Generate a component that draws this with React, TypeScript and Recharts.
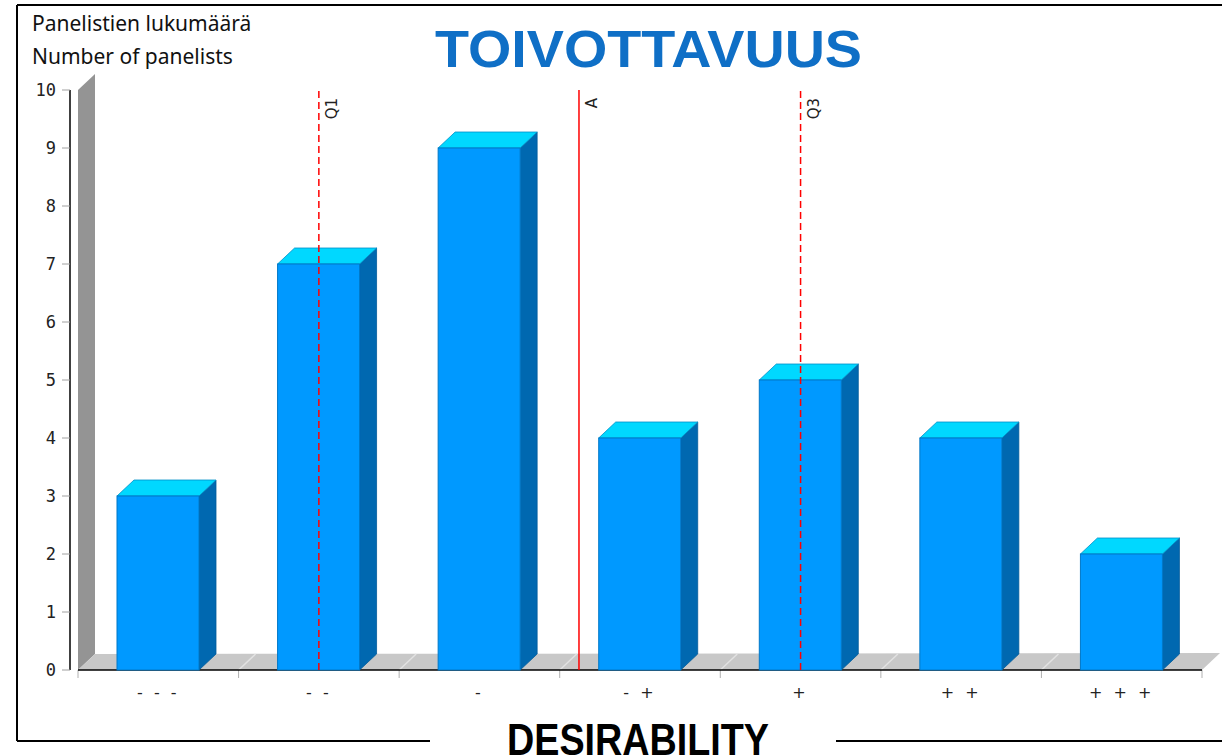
import React from "react";
import * as R from "recharts";
import { BarChart, Bar, XAxis, YAxis, ReferenceLine } from "recharts";

const categories = ["- - -", "- -", "-", "- +", "+", "+ +", "+ + +"];
const panelists = [3, 7, 9, 4, 5, 4, 2];
const yTicks = [0, 1, 2, 3, 4, 5, 6, 7, 8, 9, 10];
// quartiles and mean on a 1..7 scale (category positions)
const markers = [
  { name: "Q1", value: 2, dashed: true },
  { name: "A", value: 3.62, dashed: false },
  { name: "Q3", value: 5, dashed: true },
];

const data = categories.map((c, i) => ({ cat: c, n: panelists[i], pos: i + 1 }));

const DX = 17;
const DY = 16;

const usePlot: () => any = (R as any).usePlotArea || (R as any).useOffset || (() => null);

const Room = () => {
  const area = usePlot();
  if (!area) return null;
  const left = area.x ?? area.left;
  const top = area.y ?? area.top;
  const { width, height } = area;
  const bottom = top + height;
  const right = left + width;
  const band = width / categories.length;
  const bounds = Array.from({ length: categories.length + 1 }, (_, i) => left + i * band);
  return (
    <g>
      <polygon
        points={`${left},${bottom} ${left},${top} ${left + DX},${top - DY} ${left + DX},${bottom - DY}`}
        fill="#949494"
      />
      <polygon
        points={`${left},${bottom} ${right},${bottom} ${right + DX + 1},${bottom - DY - 1} ${left + DX},${bottom - DY}`}
        fill="#c8c8c8"
      />
      {bounds.slice(1, -1).map((bx) => (
        <line key={bx} x1={bx} y1={bottom} x2={bx + DX} y2={bottom - DY} stroke="#e2e2e2" strokeWidth={1.5} />
      ))}
      {bounds.map((bx) => (
        <line key={"t" + bx} x1={bx} y1={bottom} x2={bx} y2={bottom + 8} stroke="#b0b0b0" />
      ))}
      <line x1={left} y1={bottom} x2={right} y2={bottom} stroke="#000" strokeWidth={1.5} />
      <line x1={left - 8} y1={top} x2={left - 8} y2={bottom} stroke="#000" strokeWidth={1.5} />
    </g>
  );
};

const Box3D = (props: any) => {
  const { x, y, width, height } = props;
  if (!height) return null;
  const r = x + width;
  return (
    <g>
      <polygon
        points={`${r},${y} ${r + DX},${y - DY} ${r + DX},${y + height - DY} ${r},${y + height}`}
        fill="#0068b0"
        stroke="#005a9a"
        strokeWidth={0.8}
      />
      <polygon
        points={`${x},${y} ${x + DX},${y - DY} ${r + DX},${y - DY} ${r},${y}`}
        fill="#00d8ff"
        stroke="#0090c8"
        strokeWidth={0.8}
      />
      <rect x={x} y={y} width={width} height={height} fill="#0099ff" stroke="#0078c8" strokeWidth={1} />
    </g>
  );
};

const YTick = ({ x, y, payload }: any) => (
  <g>
    <line x1={x - 16} x2={x - 8} y1={y} y2={y} stroke="#a0a0a0" />
    <text x={x - 22} y={y} dy={6} textAnchor="end" fontFamily="DejaVu Sans Mono" fontSize={17} fill="#222">
      {payload.value}
    </text>
  </g>
);

const XTick = ({ x, y, payload }: any) => (
  <text x={x} y={y + 28} textAnchor="middle" fontFamily="DejaVu Sans" fontSize={16} letterSpacing={3} fill="#222">
    {payload.value}
  </text>
);

const markerLabel = (text: string) => (p: any) => {
  const vb = p.viewBox || {};
  return (
    <text
      transform={`translate(${vb.x + 18}, ${vb.y + 8}) rotate(-90)`}
      textAnchor="end"
      fontFamily="DejaVu Sans"
      fontSize={15}
      fill="#222"
    >
      {text}
    </text>
  );
};

export default function App() {
  return (
    <div style={{ position: "absolute", left: 0, top: 0, width: 1222, height: 756, background: "#fff", overflow: "hidden" }}>
      <svg width={1222} height={756} style={{ position: "absolute", left: 0, top: 0 }}>
        <line x1={17} y1={5} x2={1222} y2={5} stroke="#000" strokeWidth={2} />
        <line x1={17} y1={5} x2={17} y2={741} stroke="#000" strokeWidth={2} />
        <line x1={17} y1={741} x2={430} y2={741} stroke="#000" strokeWidth={2} />
        <line x1={836} y1={741} x2={1222} y2={741} stroke="#000" strokeWidth={2} />
        <text x={32} y={31} fontFamily="Noto Sans" fontSize={21} fill="#111">Panelistien lukumäärä</text>
        <text x={32} y={64} fontFamily="Noto Sans" fontSize={21} fill="#111">Number of panelists</text>
        <text
          x={435}
          y={67}
          fontFamily="Liberation Sans"
          fontWeight="bold"
          fontSize={52}
          fill="#0f6fc6"
          textLength={427}
          lengthAdjust="spacingAndGlyphs"
        >
          TOIVOTTAVUUS
        </text>
        <text
          x={507}
          y={755}
          fontFamily="Liberation Sans"
          fontWeight="bold"
          fontSize={44}
          fill="#000"
          textLength={262}
          lengthAdjust="spacingAndGlyphs"
        >
          DESIRABILITY
        </text>
      </svg>
      <div style={{ position: "absolute", left: 0, top: 0 }}>
        <BarChart width={1222} height={756} data={data} margin={{ top: 90, right: 20, bottom: 56, left: 18 }}>
          <Room />
          <XAxis dataKey="cat" axisLine={false} tickLine={false} tickSize={0} tickMargin={0} height={30} tick={<XTick />} interval={0} />
          <XAxis xAxisId="num" dataKey="pos" type="number" domain={[0.5, 7.5]} allowDataOverflow hide />
          <YAxis
            width={60}
            domain={[0, 10]}
            ticks={yTicks}
            interval={0}
            axisLine={false}
            tickLine={false}
            tickSize={0}
            tickMargin={0}
            tick={<YTick />}
          />
          <Bar dataKey="n" barSize={82} shape={<Box3D />} isAnimationActive={false} />
          {markers.map((m) => (
            <ReferenceLine
              key={m.name}
              xAxisId="num"
              x={m.value}
              stroke="#ff0000"
              strokeWidth={1.5}
              strokeDasharray={m.dashed ? "7 4" : undefined}
              label={markerLabel(m.name)}
            />
          ))}
        </BarChart>
      </div>
    </div>
  );
}
